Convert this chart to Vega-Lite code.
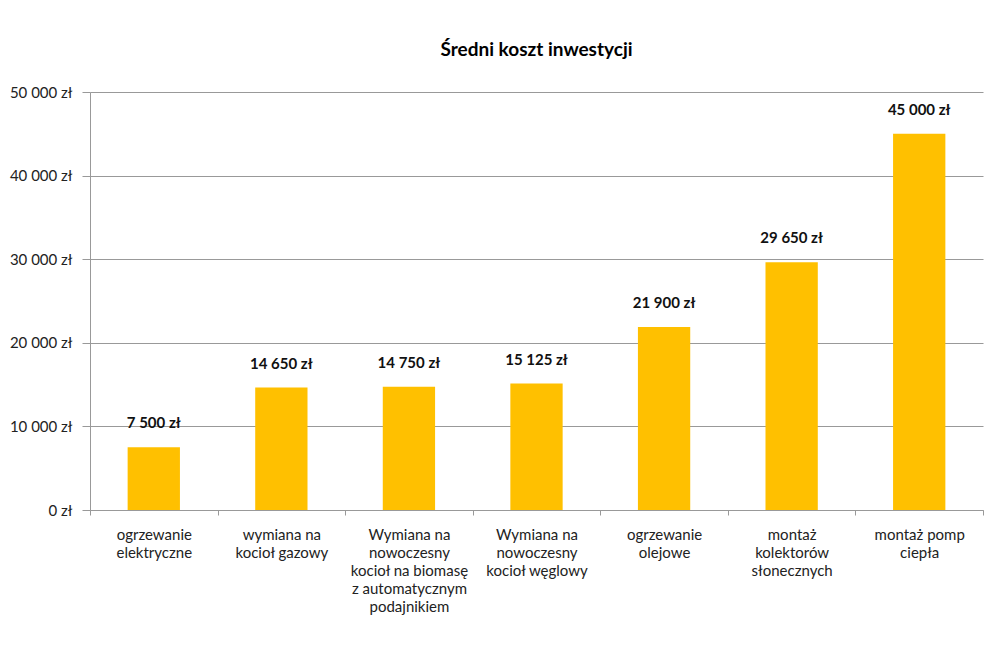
{
  "$schema": "https://vega.github.io/schema/vega-lite/v6.json",
  "width": 893,
  "height": 418,
  "autosize": {"type": "none"},
  "padding": {"left": 90, "top": 92, "right": 14, "bottom": 162},
  "background": "white",
  "config": {
    "locale": {"number": {"decimal": ",", "thousands": " ", "grouping": [3], "currency": ["", " zł"]}},
    "view": {"stroke": null},
    "font": "Lato"
  },
  "title": {
    "text": "Średni koszt inwestycji",
    "font": "Lato",
    "fontSize": 19,
    "fontWeight": "bold",
    "color": "#000000",
    "anchor": "middle",
    "offset": 25
  },
  "data": {
    "values": [
      {"kategoria": "ogrzewanie\nelektryczne", "koszt": 7500},
      {"kategoria": "wymiana na\nkocioł gazowy", "koszt": 14650},
      {"kategoria": "Wymiana na\nnowoczesny\nkocioł na biomasę\nz automatycznym\npodajnikiem", "koszt": 14750},
      {"kategoria": "Wymiana na\nnowoczesny\nkocioł węglowy", "koszt": 15125},
      {"kategoria": "ogrzewanie\nolejowe", "koszt": 21900},
      {"kategoria": "montaż\nkolektorów\nsłonecznych", "koszt": 29650},
      {"kategoria": "montaż pomp\nciepła", "koszt": 45000}
    ]
  },
  "encoding": {
    "x": {
      "field": "kategoria",
      "type": "nominal",
      "sort": null,
      "scale": {"paddingInner": 0, "paddingOuter": 0},
      "axis": {
        "title": null,
        "labelAngle": 0,
        "labelExpr": "split(datum.label, '\\n')",
        "labelFont": "Lato",
        "labelFontSize": 15,
        "labelLineHeight": 18,
        "labelColor": "#222222",
        "labelPadding": 12,
        "labelLimit": 200,
        "tickBand": "extent",
        "tickSize": 5,
        "tickColor": "#999999",
        "domainColor": "#999999",
        "grid": false
      }
    },
    "y": {
      "field": "koszt",
      "type": "quantitative",
      "scale": {"domain": [0, 50000]},
      "axis": {
        "title": null,
        "values": [0, 10000, 20000, 30000, 40000, 50000],
        "format": "$,d",
        "labelFont": "Lato",
        "labelFontSize": 15,
        "labelColor": "#222222",
        "labelPadding": 10,
        "tickSize": 8,
        "tickColor": "#999999",
        "domainColor": "#999999",
        "gridColor": "#999999",
        "grid": true
      }
    }
  },
  "layer": [
    {
      "mark": {"type": "bar", "color": "#FFC000", "width": {"band": 0.41}}
    },
    {
      "mark": {"type": "text", "baseline": "bottom", "dy": -16, "font": "Lato", "fontSize": 15, "fontWeight": "bold", "color": "#111111"},
      "encoding": {
        "text": {"field": "koszt", "type": "quantitative", "format": "$,d"}
      }
    }
  ]
}
